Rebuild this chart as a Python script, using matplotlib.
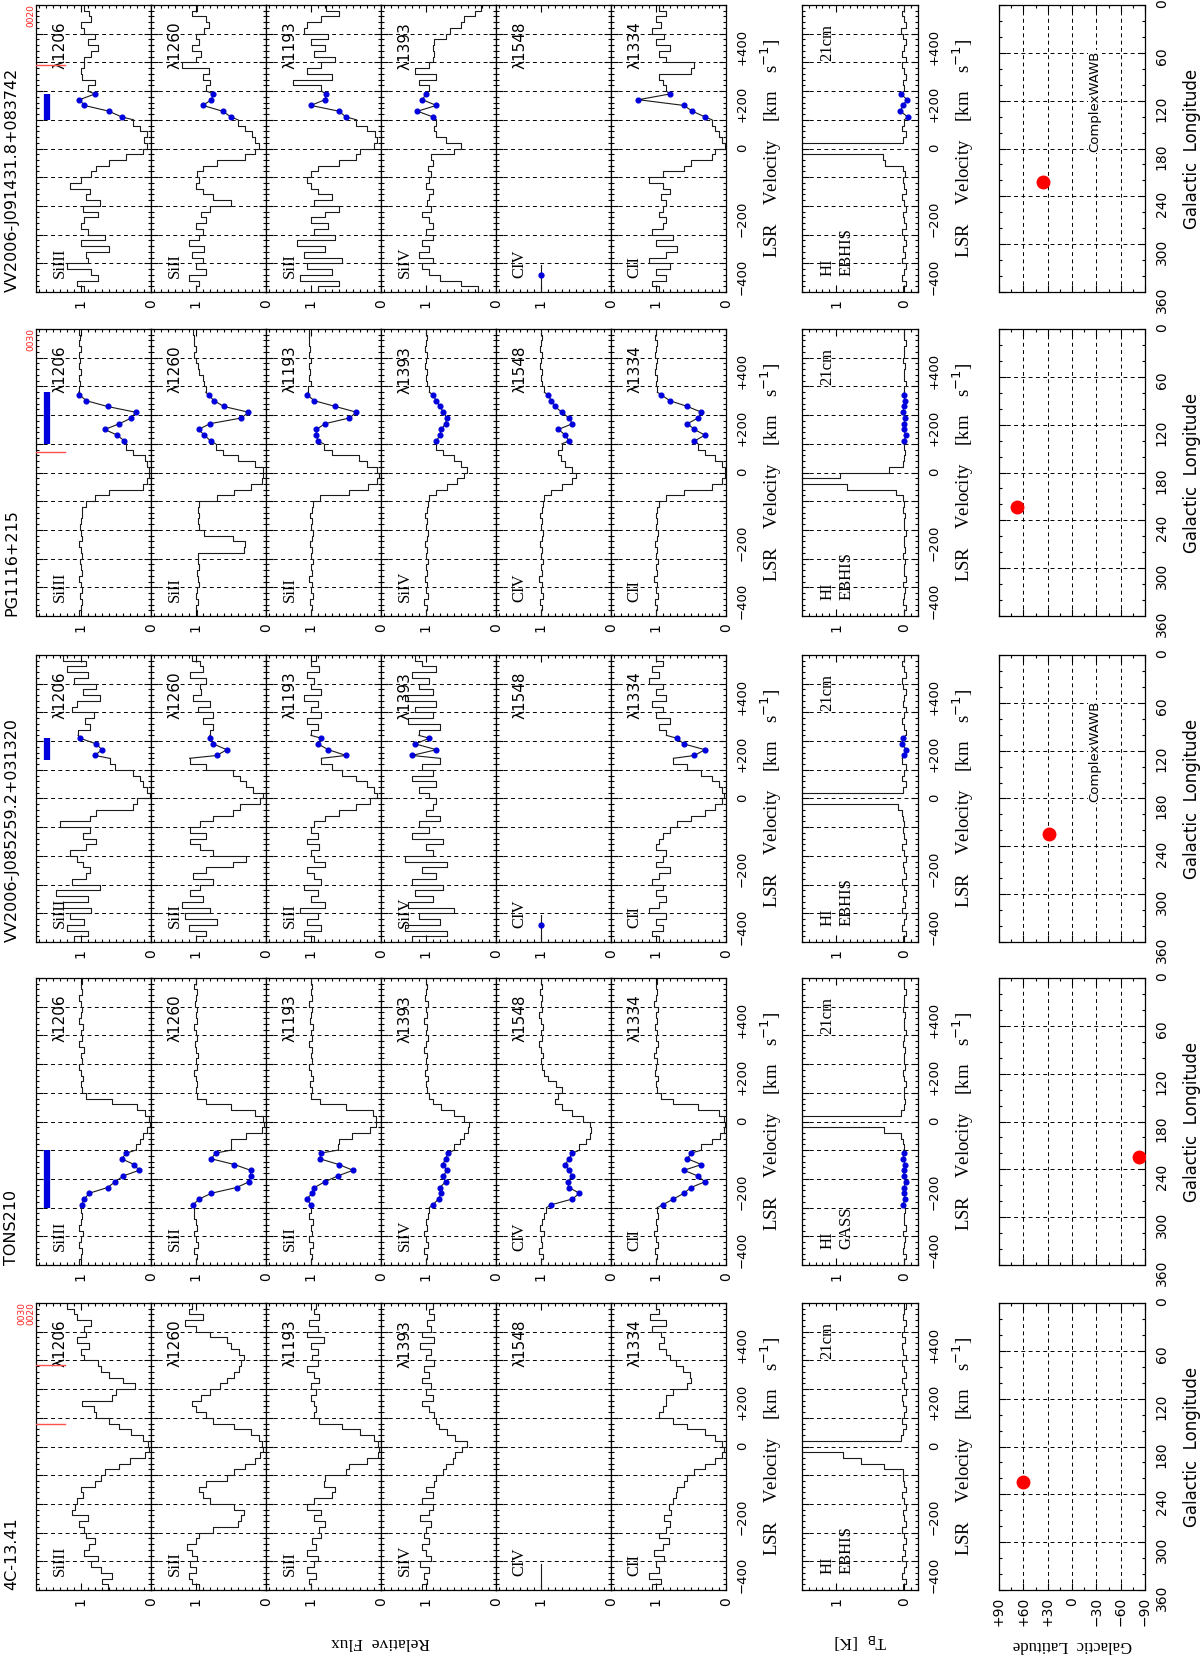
import numpy as np
import matplotlib.pyplot as plt
from matplotlib.ticker import MultipleLocator

W, H = 1200, 1655
SERIF = "Liberation Serif"
SANS = "DejaVu Sans"

# ---------------------------------------------------------------- data
SOURCES = ["VV2006-J091431.8+083742", "PG1116+215", "VV2006-J085259.2+031320",
           "TONS210", "4C-13.41"]
IONS = ["SiIII", "SiII", "SiII", "SiIV", "CIV", "CII"]
LINES = ["λ1206", "λ1260", "λ1193", "λ1393", "λ1548", "λ1334"]
HI_SURVEY = ["EBHIS", "EBHIS", "EBHIS", "GASS", "EBHIS"]

GAL_L = [222.2, 223.4, 224.7, 225.0, 225.0]
GAL_B = [35.7, 68.2, 28.4, -83.2, 60.0]
COMPLEX_LABEL = [True, False, True, False, False]

BLUE_RANGE = [(100, 190), (100, 280), (135, 210), (-300, -100), None]
RED_MARKS = [[291], [72], [], [], [285, 77]]
RED_TAGS = [["0020"], ["0030"], [], [], ["0030", "0020"]]

VEL = np.arange(-490, 491, 20)   # bin centres, km/s

vv0914 = {
    "SiIII": [0.95, 1.05, 0.75, 0.85, 1.2, 0.9, 0.92, 0.6, 1.0, 0.65,
              0.9, 1.0, 0.95, 0.75, 0.97, 0.73, 0.92, 0.87, 1.15, 1.0,
              0.85, 0.78, 0.6, 0.35, 0.12, 0.06, 0.1, 0.05, 0.15, 0.25,
              0.42, 0.6, 0.95, 1.02, 0.8, 0.9, 0.8, 0.98, 1.0, 0.95,
              0.95, 0.85, 0.75, 0.9, 0.8, 0.95, 1.0, 0.85, 0.88, 0.95],
    "SiII1260": [1.0, 0.95, 1.1, 0.85, 1.0, 0.9, 1.05, 0.88, 1.1, 0.95,
                 0.9, 1.0, 0.85, 0.92, 0.8, 0.5, 0.75, 0.9, 1.0, 0.95,
                 0.98, 0.9, 0.7, 0.3, 0.15, 0.1, 0.15, 0.2, 0.3, 0.4,
                 0.5, 0.62, 0.9, 0.78, 0.75, 0.85, 0.8, 0.9, 0.82, 1.2,
                 1.0, 0.92, 1.05, 0.95, 1.0, 0.88, 0.82, 0.85, 1.05, 0.98],
    "SiII1193": [0.9, 0.6, 1.15, 0.7, 1.05, 0.55, 1.1, 0.8, 1.2, 0.65,
                 0.95, 0.75, 1.0, 0.8, 0.6, 0.95, 0.7, 0.9, 1.0, 1.05,
                 1.0, 0.9, 0.6, 0.35, 0.3, 0.1, 0.06, 0.08, 0.2, 0.35,
                 0.5, 0.6, 1.0, 0.8, 0.78, 0.85, 1.25, 0.7, 1.05, 0.85,
                 0.65, 0.95, 0.8, 1.0, 0.75, 1.1, 1.05, 0.85, 0.6, 0.78],
    "SiIV": [0.25, 0.5, 0.8, 0.95, 1.05, 0.9, 1.1, 0.95, 1.05, 0.9,
             1.0, 0.9, 0.95, 1.05, 0.92, 0.98, 0.95, 0.9, 1.0, 0.95,
             0.92, 0.97, 0.9, 0.93, 0.6, 0.5, 0.72, 0.85, 0.88, 0.85,
             0.9, 1.12, 0.85, 1.05, 1.0, 0.95, 1.1, 0.85, 1.15, 0.95,
             0.9, 0.88, 0.9, 0.88, 0.72, 0.65, 0.5, 0.45, 0.3, 0.22],
    "CIV": None,
    "CII": [0.95, 1.05, 0.85, 1.0, 0.8, 1.1, 0.85, 0.7, 1.0, 0.75,
            1.05, 0.9, 0.85, 0.95, 0.9, 0.85, 0.92, 0.8, 0.9, 1.1,
            0.9, 0.6, 0.5, 0.2, 0.15, 0.02, 0.05, 0.1, 0.15, 0.2,
            0.3, 0.48, 0.6, 1.25, 0.8, 0.85, 0.9, 0.95, 0.5, 0.45,
            0.85, 0.95, 0.8, 1.0, 0.88, 1.05, 0.92, 1.0, 0.85, 0.95],
    "HI": [0.02, -0.03, 0.04, 0.0, -0.02, 0.03, -0.01, 0.02, -0.03, 0.01,
           0.03, -0.02, 0.0, 0.02, -0.03, 0.01, 0.03, -0.02, 0.0, 0.02,
           -0.01, 0.02, 0.28, 0.31, 2.5, 2.5, 0.02, -0.02, 0.03, 0.0,
           -0.05, 0.06, 0.02, -0.04, 0.05, 0.0, 0.02, -0.03, 0.01, 0.03,
           -0.02, 0.04, 0.0, -0.03, 0.02, 0.05, -0.02, 0.01, 0.03, 0.0],
}

pg1116 = {
    "SiIII": [1.02, 1.0, 0.99, 1.01, 0.98, 1.0, 1.02, 0.99, 1.0, 1.01,
              0.99, 1.0, 1.02, 0.98, 1.0, 1.01, 1.0, 0.99, 0.98, 0.92,
              0.8, 0.6, 0.12, 0.05, 0.03, 0.03, 0.05, 0.08, 0.25, 0.35,
              0.38, 0.48, 0.66, 0.45, 0.28, 0.22, 0.62, 0.92, 1.02, 1.03,
              1.01, 1.02, 1.0, 1.03, 1.01, 1.02, 1.0, 1.02, 1.01, 1.02],
    "SiII1260": [0.98, 1.0, 0.97, 1.0, 0.98, 0.95, 0.97, 0.98, 0.96, 0.97,
                 0.97, 0.32, 0.3, 0.47, 0.88, 0.95, 0.97, 0.96, 0.97, 0.95,
                 0.7, 0.45, 0.22, 0.05, 0.04, 0.04, 0.15, 0.4, 0.62, 0.72,
                 0.79, 0.88, 0.96, 0.8, 0.35, 0.25, 0.6, 0.74, 0.82, 0.86,
                 0.88, 0.9, 0.95, 0.97, 1.0, 1.02, 1.0, 1.03, 1.02, 1.04],
    "SiII1193": [1.0, 0.98, 1.01, 0.97, 1.0, 0.99, 1.02, 0.98, 1.0, 0.97,
                 1.0, 0.98, 1.01, 0.99, 0.97, 1.0, 0.98, 1.01, 0.99, 0.97,
                 0.87, 0.45, 0.18, 0.05, 0.03, 0.05, 0.2, 0.32, 0.7, 0.82,
                 0.9, 0.92, 0.92, 0.8, 0.45, 0.35, 0.65, 0.95, 1.05, 1.04,
                 1.0, 1.02, 1.01, 1.03, 1.0, 1.02, 1.01, 1.03, 1.02, 1.03],
    "SiIV": [1.0, 0.98, 1.02, 0.97, 1.0, 0.99, 1.01, 0.98, 1.0, 0.97,
             1.0, 0.98, 1.01, 0.99, 0.97, 1.0, 0.98, 1.01, 0.99, 0.97,
             0.95, 0.85, 0.7, 0.55, 0.45, 0.42, 0.5, 0.6, 0.75, 0.85,
             0.85, 0.8, 0.78, 0.72, 0.7, 0.75, 0.8, 0.85, 0.9, 0.95,
             0.98, 1.0, 0.99, 1.01, 1.0, 0.98, 1.01, 1.0, 0.99, 1.0],
    "CIV": [1.0, 0.98, 1.01, 0.97, 1.0, 0.99, 1.02, 0.98, 1.0, 0.97,
            1.0, 0.98, 1.01, 0.99, 0.97, 1.0, 0.98, 1.01, 0.99, 0.97,
            0.95, 0.85, 0.7, 0.55, 0.5, 0.55, 0.65, 0.72, 0.75, 0.7,
            0.6, 0.65, 0.75, 0.55, 0.6, 0.7, 0.8, 0.85, 0.9, 0.95,
            0.98, 1.0, 0.99, 1.01, 1.0, 0.98, 1.01, 1.0, 0.99, 1.0],
    "CII": [1.0, 0.98, 1.01, 0.97, 1.0, 0.99, 1.02, 0.98, 1.0, 0.97,
            1.0, 0.98, 1.01, 0.99, 0.97, 1.0, 0.98, 1.0, 0.98, 0.95,
            0.85, 0.6, 0.2, 0.05, 0.02, 0.02, 0.05, 0.15, 0.3, 0.4,
            0.45, 0.3, 0.45, 0.55, 0.4, 0.35, 0.55, 0.8, 0.92, 0.98,
            1.0, 0.99, 1.01, 1.0, 0.98, 1.01, 1.0, 0.99, 1.01, 1.0],
    "HI": [0.01, -0.02, 0.02, 0.0, -0.01, 0.02, -0.02, 0.01, 0.0, -0.01,
           0.02, -0.01, 0.0, 0.01, -0.02, 0.01, 0.0, -0.01, 0.02, 0.0,
           0.02, 0.12, 0.84, 2.5, 0.94, 0.23, 0.02, 0.0, -0.01, 0.01,
           0.0, -0.02, 0.01, 0.0, -0.01, 0.02, 0.0, -0.01, 0.01, 0.0,
           -0.02, 0.01, 0.0, -0.01, 0.02, 0.0, 0.01, -0.02, 0.01, 0.0],
}

vv0852 = {
    "SiIII": [1.1, 0.9, 1.2, 0.95, 1.15, 0.85, 1.25, 0.9, 1.35, 0.73,
              1.13, 0.92, 0.87, 0.97, 1.06, 1.16, 0.92, 0.78, 0.97, 0.87,
              1.3, 0.87, 0.78, 0.25, 0.2, 0.02, 0.06, 0.11, 0.16, 0.25,
              0.51, 0.59, 0.8, 0.7, 0.78, 1.01, 1.04, 0.87, 0.94, 0.82,
              1.13, 1.06, 0.73, 0.97, 0.78, 1.1, 0.9, 1.2, 0.92, 1.25],
    "SiII1260": [1.0, 0.85, 1.1, 0.7, 1.15, 0.8, 1.2, 0.9, 1.09, 0.94,
                 0.75, 1.04, 0.85, 0.47, 0.28, 0.75, 0.94, 1.09, 0.85, 1.09,
                 0.94, 0.75, 0.47, 0.37, 0.09, 0.04, 0.18, 0.28, 0.37, 0.47,
                 0.85, 1.09, 0.7, 0.56, 0.75, 0.8, 0.8, 0.75, 0.9, 0.75,
                 0.97, 0.8, 1.04, 0.92, 0.94, 0.85, 1.09, 0.9, 0.94, 1.06],
    "SiII1193": [0.95, 1.1, 0.85, 1.05, 0.9, 1.15, 0.8, 1.0, 0.9, 1.1,
                 0.85, 0.95, 1.05, 0.8, 0.95, 1.0, 0.88, 1.05, 0.9, 1.0,
                 0.95, 0.8, 0.6, 0.35, 0.15, 0.05, 0.1, 0.2, 0.35, 0.55,
                 0.7, 0.85, 0.5, 0.75, 0.9, 0.85, 1.0, 0.9, 1.05, 0.85,
                 1.0, 0.9, 1.1, 0.85, 1.0, 0.95, 1.05, 0.88, 1.0, 0.92],
    "SiIV": [1.2, 0.7, 1.3, 0.8, 1.1, 0.6, 1.25, 0.9, 1.15, 0.75,
             1.2, 0.85, 1.05, 0.7, 1.3, 0.9, 1.0, 0.75, 1.2, 0.95,
             1.1, 0.8, 1.0, 0.9, 0.85, 0.95, 1.1, 0.85, 1.2, 0.9,
             1.05, 0.8, 1.2, 0.85, 1.15, 0.95, 1.1, 0.8, 1.25, 0.9,
             1.15, 0.85, 1.3, 0.9, 1.1, 0.95, 1.2, 0.85, 1.05, 1.15],
    "CIV": None,
    "CII": [0.95, 1.05, 0.9, 1.0, 0.85, 1.1, 0.95, 0.85, 1.0, 0.9,
            1.05, 0.95, 0.8, 1.0, 0.9, 0.85, 1.0, 0.95, 0.9, 0.8,
            0.7, 0.5, 0.3, 0.15, 0.05, 0.03, 0.05, 0.1, 0.2, 0.35,
            0.55, 0.75, 0.45, 0.3, 0.6, 0.7, 0.85, 0.95, 0.8, 1.0,
            0.9, 1.05, 0.85, 1.0, 0.9, 1.1, 0.95, 1.05, 0.9, 1.0],
    "HI": [0.02, -0.03, 0.03, 0.0, -0.02, 0.03, -0.01, 0.02, -0.03, 0.01,
           0.03, -0.02, 0.0, 0.02, -0.03, 0.01, 0.03, -0.02, 0.0, 0.02,
           0.0, 0.02, 0.03, 0.1, 2.5, 2.5, 0.02, -0.02, 0.03, 0.0,
           -0.02, 0.03, 0.0, -0.03, 0.04, 0.02, -0.02, 0.01, 0.03, 0.0,
           -0.02, 0.02, 0.0, -0.03, 0.02, 0.03, -0.02, 0.01, 0.03, 0.0],
}

tons210 = {
    "SiIII": [1.02, 1.0, 0.98, 1.03, 1.0, 0.97, 1.02, 1.0, 0.98, 1.0,
              0.99, 0.95, 0.88, 0.62, 0.51, 0.4, 0.17, 0.24, 0.42, 0.35,
              0.22, 0.16, 0.12, 0.05, 0.02, 0.03, 0.08, 0.2, 0.55, 0.93,
              0.98, 1.0, 0.97, 1.0, 1.02, 0.98, 1.0, 0.96, 1.02, 0.99,
              1.0, 0.97, 1.02, 1.0, 0.98, 1.0, 1.02, 0.98, 1.0, 0.99],
    "SiII1260": [1.0, 0.98, 1.02, 0.97, 1.0, 1.02, 0.98, 1.0, 1.03, 1.02,
                 1.04, 0.95, 0.78, 0.42, 0.24, 0.22, 0.22, 0.45, 0.78, 0.72,
                 0.5, 0.5, 0.28, 0.06, 0.03, 0.04, 0.15, 0.5, 0.85, 0.98,
                 1.0, 0.98, 1.0, 1.02, 0.99, 1.0, 0.97, 1.0, 1.01, 0.98,
                 1.0, 1.02, 0.99, 1.0, 0.98, 1.01, 1.0, 0.99, 1.02, 1.0],
    "SiII1193": [1.0, 0.98, 1.01, 0.97, 1.02, 0.99, 1.0, 0.97, 1.02, 1.0,
                 1.0, 1.06, 0.98, 0.95, 0.8, 0.62, 0.4, 0.6, 0.87, 0.86,
                 0.62, 0.6, 0.42, 0.16, 0.07, 0.07, 0.12, 0.5, 0.87, 1.0,
                 0.98, 1.01, 0.97, 1.0, 1.02, 0.98, 1.0, 0.99, 1.03, 0.98,
                 1.0, 0.97, 1.01, 1.0, 0.98, 1.02, 0.99, 1.0, 0.98, 1.0],
    "SiIV": [1.0, 0.98, 1.02, 0.97, 1.0, 1.02, 0.98, 1.0, 0.97, 0.95,
             0.9, 0.82, 0.78, 0.8, 0.72, 0.75, 0.7, 0.76, 0.72, 0.68,
             0.6, 0.52, 0.45, 0.4, 0.38, 0.45, 0.6, 0.78, 0.9, 0.95,
             0.98, 1.0, 0.97, 1.01, 0.99, 1.0, 0.98, 1.02, 1.0, 0.97,
             1.0, 0.99, 1.02, 0.98, 1.0, 0.97, 1.01, 1.0, 0.98, 1.0],
    "CIV": [1.0, 0.97, 1.02, 0.98, 1.0, 0.96, 1.01, 0.98, 0.95, 0.92,
            0.85, 0.55, 0.45, 0.6, 0.62, 0.55, 0.6, 0.65, 0.6, 0.55,
            0.45, 0.35, 0.3, 0.28, 0.3, 0.4, 0.55, 0.7, 0.8, 0.75,
            0.7, 0.78, 0.9, 0.95, 0.98, 1.0, 0.97, 1.0, 1.02, 0.98,
            1.0, 0.97, 1.0, 1.02, 0.98, 1.0, 0.99, 1.01, 0.98, 1.0],
    "CII": [1.0, 0.98, 1.01, 0.97, 1.0, 1.02, 0.98, 1.0, 0.97, 0.98,
            0.9, 0.75, 0.6, 0.5, 0.3, 0.4, 0.6, 0.35, 0.55, 0.5,
            0.35, 0.2, 0.08, 0.03, 0.02, 0.03, 0.1, 0.4, 0.75, 0.92,
            0.98, 1.0, 0.97, 1.01, 1.0, 0.98, 1.02, 1.0, 0.97, 1.0,
            0.99, 1.01, 0.98, 1.0, 0.97, 1.02, 1.0, 0.98, 1.0, 0.99],
    "HI": [0.01, -0.02, 0.02, 0.0, -0.01, 0.02, -0.02, 0.01, 0.0, -0.01,
           0.02, -0.01, 0.0, 0.01, -0.02, 0.01, 0.0, -0.01, 0.02, 0.0,
           0.01, 0.02, 0.05, 0.3, 2.5, 2.5, 0.05, 0.01, -0.01, 0.0,
           0.01, -0.02, 0.0, 0.02, -0.01, 0.0, 0.01, -0.01, 0.02, 0.0,
           -0.02, 0.01, 0.0, -0.01, 0.02, 0.0, 0.01, -0.02, 0.01, 0.0],
}

c4_1341 = {
    "SiIII": [0.62, 0.7, 0.55, 0.72, 0.85, 0.75, 0.95, 0.88, 0.8, 0.92,
              0.95, 1.02, 0.9, 1.12, 1.08, 1.05, 0.97, 1.0, 0.8, 0.72,
              0.66, 0.45, 0.3, 0.08, 0.03, 0.04, 0.12, 0.28, 0.45, 0.6,
              0.78, 0.82, 0.98, 0.55, 0.5, 0.23, 0.4, 0.6, 0.72, 0.76,
              0.95, 1.0, 0.88, 1.05, 0.92, 0.95, 0.85, 1.05, 1.1, 1.2],
    "SiII1260": [0.95, 1.05, 1.1, 1.0, 1.08, 0.98, 1.05, 1.12, 1.0, 0.95,
                 0.75, 0.4, 0.35, 0.32, 0.45, 0.8, 0.9, 0.95, 0.85, 0.55,
                 0.45, 0.3, 0.15, 0.08, 0.04, 0.05, 0.1, 0.22, 0.45, 0.75,
                 0.85, 1.0, 1.05, 0.92, 0.8, 0.65, 0.55, 0.45, 0.38, 0.35,
                 0.32, 0.38, 0.5, 0.55, 0.8, 1.0, 1.15, 0.9, 1.1, 1.05],
    "SiII1193": [1.0, 1.02, 0.92, 1.05, 0.95, 0.9, 1.05, 0.92, 0.98, 0.85,
                 0.88, 0.8, 0.95, 0.85, 1.05, 0.95, 0.7, 0.65, 0.82, 0.8,
                 0.5, 0.45, 0.2, 0.04, 0.03, 0.04, 0.1, 0.3, 0.55, 0.88,
                 0.95, 0.92, 0.95, 1.0, 0.92, 1.0, 0.88, 0.95, 1.05, 0.9,
                 0.98, 0.9, 1.0, 0.82, 1.05, 0.9, 1.02, 0.88, 0.95, 0.92],
    "SiIV": [1.05, 0.98, 1.02, 0.95, 1.08, 0.92, 1.0, 1.05, 0.96, 1.02,
             1.0, 0.92, 1.08, 0.95, 0.9, 1.05, 0.9, 1.0, 0.88, 0.85,
             0.75, 0.72, 0.62, 0.58, 0.48, 0.42, 0.58, 0.7, 0.82, 0.85,
             0.88, 0.95, 1.05, 0.9, 1.0, 0.92, 1.05, 0.95, 1.02, 0.88,
             1.0, 0.92, 1.08, 0.88, 1.05, 0.92, 0.98, 0.88, 0.95, 0.9],
    "CIV": None,
    "CII": [1.05, 0.92, 1.1, 0.95, 1.0, 0.88, 1.02, 0.9, 0.82, 0.95,
            0.85, 0.8, 0.88, 0.78, 0.82, 0.75, 0.72, 0.7, 0.6, 0.55,
            0.45, 0.3, 0.15, 0.06, 0.03, 0.05, 0.15, 0.3, 0.55, 0.75,
            0.95, 0.9, 0.85, 0.85, 0.75, 0.55, 0.5, 0.52, 0.62, 0.72,
            0.8, 0.85, 0.95, 0.88, 0.92, 1.05, 0.85, 1.08, 0.95, 1.0],
    "HI": [0.02, -0.03, 0.04, 0.0, -0.02, 0.03, -0.01, 0.02, -0.03, 0.01,
           0.03, -0.02, 0.0, 0.02, -0.03, 0.01, 0.03, -0.02, 0.0, 0.02,
           0.02, 0.3, 0.63, 0.9, 2.5, 2.2, 0.05, 0.02, -0.02, 0.03,
           0.0, -0.03, 0.02, 0.04, -0.02, 0.01, 0.03, -0.02, 0.0, 0.03,
           -0.02, 0.02, 0.04, -0.01, 0.03, 0.0, -0.03, 0.02, 0.01, -0.02],
}

SPECTRA = [vv0914, pg1116, vv0852, tons210, c4_1341]
ION_KEYS = ["SiIII", "SiII1260", "SiII1193", "SiIV", "CIV", "CII"]

# stub drawn in the empty CIV panels: velocity extent at unit flux, optional blue point
CIV_STUB_VEL = [(-500, -405), None, (-500, -405), None, (-500, -410)]
CIV_STUB_DOT = [-440, None, -440, None, None]

# ---------------------------------------------------------------- layout
ROW_TOPS = [5, 329, 655, 978, 1303]
ROW_H = 287
ION_X0, ION_W = 36, 115
HI_X = (802, 918)
MAP_X = (999, 1145)
FLUX_LIM = (1.64, 0.0)
TB_LIM = (1.5, -0.2)
BLUE = "#0000dd"
INK = "#1a1a1a"
DASH = (0, (4, 3.5))
VEL_LABEL = "LSR    Velocity    [km    s$^{-1}$]"

fig = plt.figure(figsize=(W / 100, H / 100), dpi=100)
fig.patch.set_facecolor("white")


def add_axes_px(x0, x1, y0, y1):
    return fig.add_axes([x0 / W, 1 - y1 / H, (x1 - x0) / W, (y1 - y0) / H])


def style(ax):
    for s in ax.spines.values():
        s.set_linewidth(0.9)
    ax.tick_params(which="both", direction="in", top=True, bottom=True, left=True,
                   right=True, labelleft=False, labelbottom=False, labelright=False,
                   labeltop=False, width=0.8)
    ax.tick_params(which="major", length=5)
    ax.tick_params(which="minor", length=2.5)


def step_xy(vals, keep):
    # histogram outline along velocity; bins not in `keep` are left out
    v = np.where(keep, np.asarray(vals, float), np.nan)
    edges = np.append(VEL - 10, VEL[-1] + 10)
    y = np.repeat(edges, 2)[1:-1]
    x = np.repeat(v, 2)
    return x, y


def vel_label(v):
    if v > 0:
        return f"+{v}"
    if v < 0:
        return f"\u2212{-v}"
    return "0"


def vel_axis(ax, show_labels):
    ax.set_ylim(-500, 500)
    ticks = list(range(-400, 401, 100))
    ax.set_yticks(ticks, [vel_label(t) if t % 200 == 0 else "" for t in ticks])
    ax.yaxis.set_minor_locator(MultipleLocator(20))
    for t in ticks:
        ax.axhline(t, color="k", lw=0.7, ls=DASH, zorder=1)
    if show_labels:
        ax.tick_params(axis="y", labelright=True, labelrotation=90, labelsize=9.5, pad=7)
        for lab in ax.get_yticklabels():
            lab.set_family(SANS)


def spectrum(ax, vals, brange):
    v = np.asarray(vals, float)
    if brange is None:
        m = np.zeros(len(VEL), bool)
    else:
        m = (VEL >= brange[0]) & (VEL <= brange[1])
    lo = VEL < (brange[0] if brange else 9999)
    hi = ~lo & ~m
    for part in (lo, hi):
        xs, ys = step_xy(v, part)
        ax.plot(xs, ys, color=INK, lw=0.8, zorder=2)
    if m.any():
        idx = np.where(m)[0]
        i0, i1 = idx[0], idx[-1]
        px = [v[i0 - 1]] + list(v[m]) + ([v[i1 + 1]] if i1 + 1 < len(v) else [])
        py = [VEL[i0] - 10] + list(VEL[m]) + ([VEL[i1] + 10] if i1 + 1 < len(v) else [])
        ax.plot(px, py, color=INK, lw=0.8, zorder=2)
        ax.plot(v[m], VEL[m], "o", color=BLUE, ms=3.4, zorder=3)


for r, src in enumerate(SOURCES):
    top = ROW_TOPS[r]
    bot = top + ROW_H
    data = SPECTRA[r]
    brange = BLUE_RANGE[r]

    for k in range(6):
        x0 = ION_X0 + k * ION_W
        ax = add_axes_px(x0, x0 + ION_W, top, bot)
        style(ax)
        ax.set_xlim(*FLUX_LIM)
        ax.set_xticks([0, 1], ["0", "1"])
        ax.xaxis.set_minor_locator(MultipleLocator(0.1))
        ax.tick_params(axis="x", labelbottom=True, labelrotation=90, labelsize=10, pad=5)
        vel_axis(ax, k == 5)

        vals = data[ION_KEYS[k]]
        if vals is not None:
            spectrum(ax, vals, brange)
        elif CIV_STUB_VEL[r] is not None:
            ax.plot([1, 1], CIV_STUB_VEL[r], color=INK, lw=0.8)
            if CIV_STUB_DOT[r] is not None:
                ax.plot([1], [CIV_STUB_DOT[r]], "o", color=BLUE, ms=3.5)

        ax.text(1.30, -452, IONS[k], rotation=90, ha="center", va="bottom",
                fontsize=12, family=SERIF)
        ax.text(1.30, 442, LINES[k], rotation=90, ha="center", va="top",
                fontsize=11, family=SANS)

        if k == 0:
            if brange is not None:
                ax.plot([1.48, 1.48], brange, color=BLUE, lw=4.5,
                        solid_capstyle="butt", zorder=3)
            for v in RED_MARKS[r]:
                ax.plot([1.64, 1.23], [v, v], color="#ff5050", lw=1.0, zorder=3)

    fig.text(771 / W, 1 - (top + ROW_H / 2) / H, VEL_LABEL,
             rotation=90, ha="center", va="center", fontsize=13.5, family=SERIF)

    # HI panel
    ax = add_axes_px(HI_X[0], HI_X[1], top, bot)
    style(ax)
    ax.set_xlim(*TB_LIM)
    ax.set_xticks([0, 1], ["0", "1"])
    ax.xaxis.set_minor_locator(MultipleLocator(0.1))
    ax.tick_params(axis="x", labelbottom=True, labelrotation=90, labelsize=10, pad=5)
    vel_axis(ax, True)
    spectrum(ax, data["HI"], brange)
    ax.text(1.13, -445, "HI", rotation=90, ha="center", va="bottom",
            fontsize=12, family=SERIF)
    ax.text(0.85, -445, HI_SURVEY[r], rotation=90, ha="center", va="bottom",
            fontsize=12, family=SERIF)
    ax.text(1.13, 435, "21cm", rotation=90, ha="center", va="top",
            fontsize=12, family=SERIF)
    fig.text(963 / W, 1 - (top + ROW_H / 2) / H, VEL_LABEL,
             rotation=90, ha="center", va="center", fontsize=13.5, family=SERIF)

    # sky position panel
    ax = add_axes_px(MAP_X[0], MAP_X[1], top, bot)
    style(ax)
    ax.set_xlim(90, -90)
    ax.set_ylim(360, 0)
    lat_ticks = list(range(-90, 91, 30))
    ax.set_xticks(lat_ticks, [vel_label(t) for t in lat_ticks])
    ax.xaxis.set_minor_locator(MultipleLocator(15))
    lon_ticks = list(range(0, 361, 60))
    ax.set_yticks(lon_ticks, [str(t) for t in lon_ticks])
    ax.yaxis.set_minor_locator(MultipleLocator(20))
    for t in range(-60, 61, 30):
        ax.axvline(t, color="k", lw=0.7, ls=DASH, zorder=1)
    for t in range(60, 301, 60):
        ax.axhline(t, color="k", lw=0.7, ls=DASH, zorder=1)
    ax.tick_params(axis="y", labelright=True, labelrotation=90, labelsize=10, pad=7)
    if r == len(SOURCES) - 1:
        ax.tick_params(axis="x", labelbottom=True, labelrotation=90, labelsize=10, pad=5)
    ax.plot([GAL_B[r]], [GAL_L[r]], "o", color="#ff0000", ms=9, zorder=4)
    if COMPLEX_LABEL[r]:
        ax.text(-28, 121, "ComplexWAWB", rotation=90, ha="center", va="center",
                fontsize=9.5, family=SANS, zorder=3,
                bbox=dict(fc="white", ec="none", pad=0.5))
    fig.text(1192 / W, 1 - (top + ROW_H / 2) / H, "Galactic  Longitude",
             rotation=90, ha="center", va="center", fontsize=12, family=SANS)

    # source name and red tags
    fig.text(12 / W, 1 - bot / H, src, rotation=90, ha="center", va="bottom",
             fontsize=11.5, family=SANS)
    tags = RED_TAGS[r]
    for j, tag in enumerate(tags):
        xpos = 31 - 9 * (len(tags) - 1 - j)
        fig.text(xpos / W, 1 - (top - 1) / H, tag, rotation=90, ha="center", va="top",
                 fontsize=6.5, color="#ff2020", family=SANS)

fig.text(381 / W, 1 - 1642 / H, "Relative  Flux", rotation=180, ha="center",
         va="center", fontsize=12.5, family=SERIF)
fig.text(860 / W, 1 - 1642 / H, "T$_\\mathrm{B}$  [K]", rotation=180, ha="center",
         va="center", fontsize=12.5, family=SERIF)
fig.text(1072 / W, 1 - 1645 / H, "Galactic  Latitude", rotation=180, ha="center",
         va="center", fontsize=12, family=SERIF)

fig.savefig("out.png", dpi=100, facecolor="white")
